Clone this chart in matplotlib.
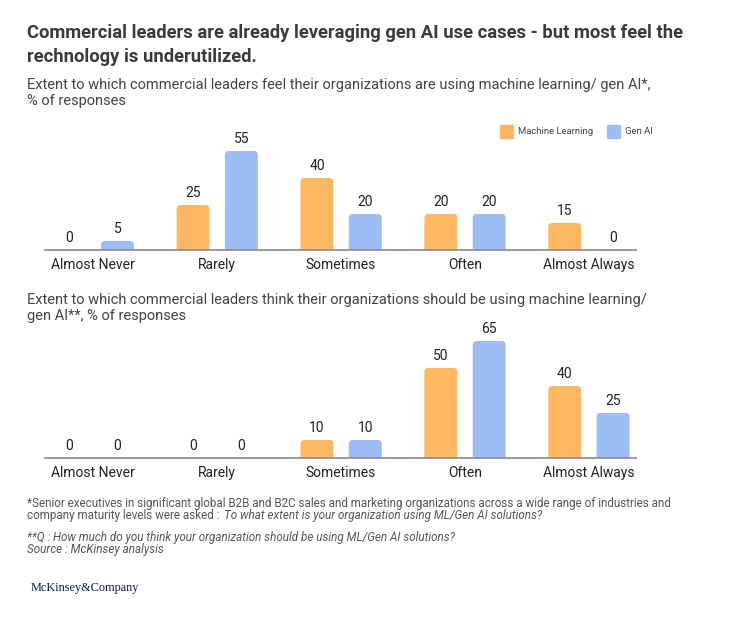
import numpy as np
import matplotlib.pyplot as plt
from matplotlib.patches import FancyBboxPatch

W, H = 730, 618

categories = ["Almost Never", "Rarely", "Sometimes", "Often", "Almost Always"]
using_ml = [0, 25, 40, 20, 15]
using_genai = [5, 55, 20, 20, 0]
should_ml = [0, 0, 10, 50, 40]
should_genai = [0, 0, 10, 65, 25]

orange = "#FFB762"
blue = "#9BBEF5"
txt = "#3a3a3a"
sub = "#444444"
fn = "#555555"

plt.rcParams["font.family"] = ["Roboto", "DejaVu Sans"]

fig = plt.figure(figsize=(W / 100, H / 100), dpi=100)


def put(x, y, s, **kw):
    # x, y in pixels from the top-left corner
    return fig.text(x / W, 1 - y / H, s, va="center", ha="left", **kw)


# titles
put(27, 33, "Commercial leaders are already leveraging gen AI use cases - but most feel the",
    fontsize=13.2, fontweight="bold", color=txt)
put(27, 57, "rechnology is underutilized.", fontsize=13.2, fontweight="bold", color=txt)
put(27, 85, "Extent to which commercial leaders feel their organizations are using machine learning/ gen AI*,",
    fontsize=10.5, color=sub)
put(27, 101, "% of responses", fontsize=10.5, color=sub)
put(27, 300, "Extent to which commercial leaders think their organizations should be using machine learning/",
    fontsize=10.5, color=sub)
put(27, 316, "gen AI**, % of responses", fontsize=10.5, color=sub)

# footnotes
put(27, 503, "*Senior executives in significant global B2B and B2C sales and marketing organizations "
    "across a wide range of industries and", fontsize=8.4, color=fn)
t1 = put(27, 516, "company maturity levels were asked : ", fontsize=8.4, color=fn)
r = fig.canvas.get_renderer()
bb = t1.get_window_extent(renderer=r)
put(bb.x1 + 2, 516, "To what extent is your organization using ML/Gen AI solutions?",
    fontsize=8.4, color=fn, style="italic")
put(27, 537, "**Q : How much do you think your organization should be using ML/Gen AI solutions?",
    fontsize=8.4, color=fn, style="italic")
put(27, 550, "Source : McKinsey analysis", fontsize=8.4, color=fn, style="italic")
put(31, 588, "McKinsey&Company", fontsize=8.8, color="#051C4B",
    family=["Liberation Serif", "DejaVu Serif"])

# legend
for x0, col, lab in [(500, orange, "Machine Learning"), (607, blue, "Gen AI")]:
    fig.patches.append(plt.Rectangle((x0 / W, 1 - 138 / H), 13 / W, 13 / H, color=col,
                                     transform=fig.transFigure, figure=fig))
    put(x0 + 18, 131, lab, fontsize=6.8, color=sub)

xleft, xright = -0.39, 4.38
ymax = 70
x = np.arange(len(categories))
bw = 0.266
off = 0.195
xpx = (636 - 45) / (xright - xleft)  # pixels per x unit
ypx = 1.8                            # pixels per y unit


def rbar(ax, xc, v, col):
    if v <= 0:
        return
    rad = 4 / xpx
    p = FancyBboxPatch((xc - bw / 2, -4), bw, v + 4,
                       boxstyle=f"round,pad=0,rounding_size={rad}",
                       mutation_aspect=xpx / ypx, fc=col, ec="none")
    ax.add_patch(p)


def panel(base_px, ml, gen):
    ax = fig.add_axes([45 / W, 1 - base_px / H, (636 - 45) / W, ymax * ypx / H])
    for xi, v in zip(x - off, ml):
        rbar(ax, xi, v, orange)
        ax.text(xi, v + 3, str(v), ha="center", va="bottom", fontsize=10, color="#222222")
    for xi, v in zip(x + off, gen):
        rbar(ax, xi, v, blue)
        ax.text(xi, v + 3, str(v), ha="center", va="bottom", fontsize=10, color="#222222")
    ax.set_xlim(xleft, xright)
    ax.set_ylim(0, ymax)
    for s in ["top", "right", "left"]:
        ax.spines[s].set_visible(False)
    ax.spines["bottom"].set_color("#8a8a8a")
    ax.spines["bottom"].set_linewidth(1.2)
    ax.spines["bottom"].set_zorder(3)
    ax.set_yticks([])
    ax.set_xticks(x)
    ax.set_xticklabels(categories, fontsize=10, color="#222222")
    ax.tick_params(axis="x", length=0, pad=6)
    ax.patch.set_alpha(0)
    return ax


panel(250, using_ml, using_genai)
panel(458, should_ml, should_genai)

fig.savefig("out.png", dpi=100)
